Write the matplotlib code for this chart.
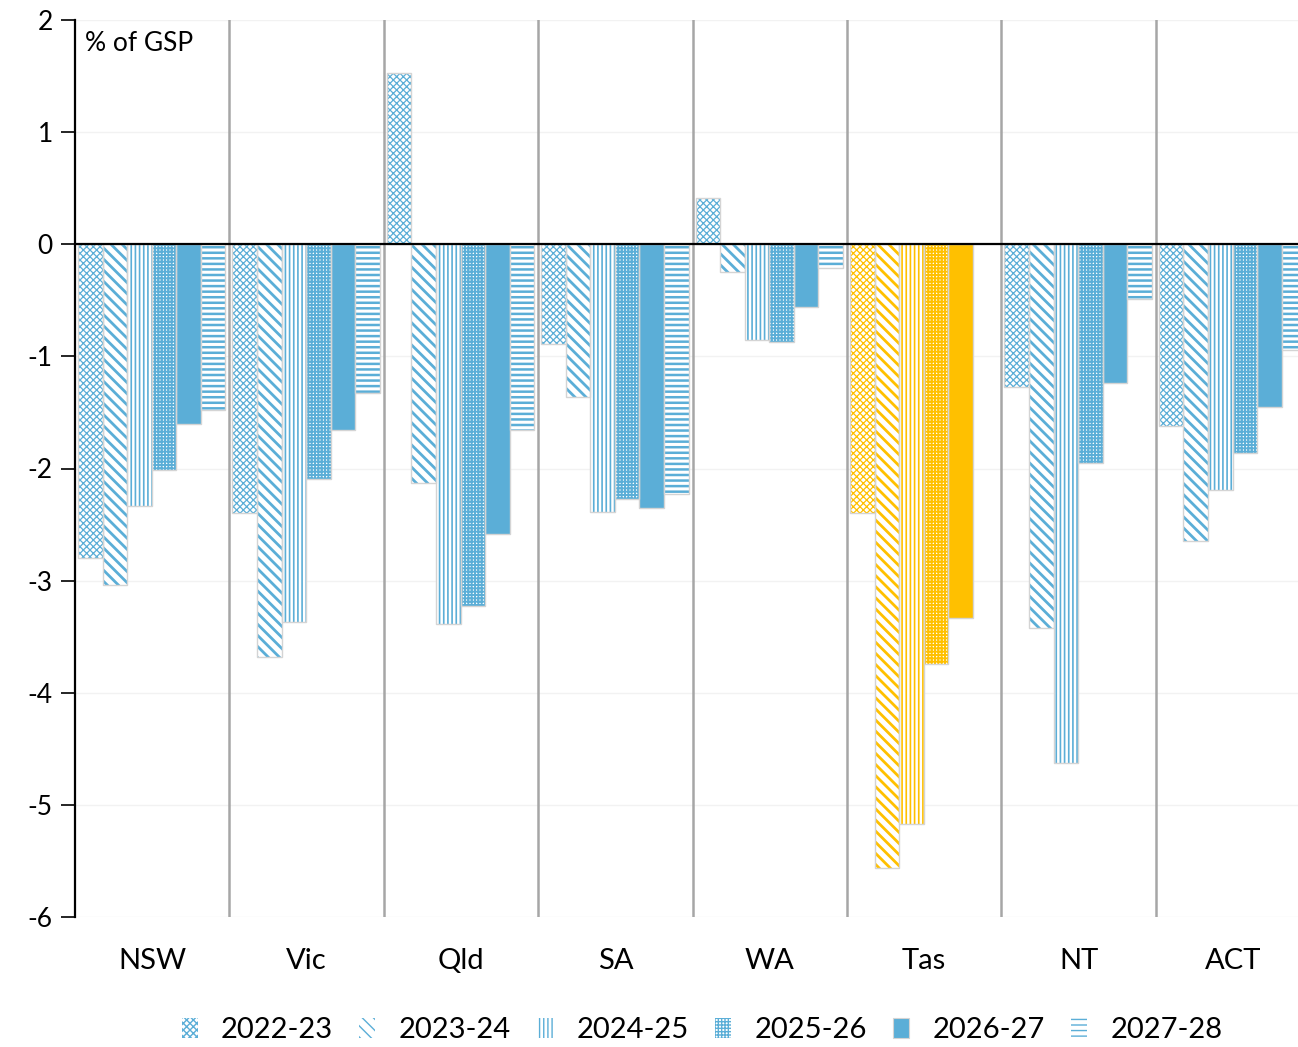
import matplotlib
matplotlib.use("Agg")
import matplotlib.pyplot as plt
import numpy as np
from matplotlib.patches import Patch

states = ["NSW", "Vic", "Qld", "SA", "WA", "Tas", "NT", "ACT"]
years = ["2022-23", "2023-24", "2024-25", "2025-26", "2026-27", "2027-28"]

v2022_23 = [-2.80, -2.40, 1.53, -0.89, 0.41, -2.40, -1.27, -1.62]
v2023_24 = [-3.04, -3.68, -2.13, -1.36, -0.25, -5.56, -3.42, -2.65]
v2024_25 = [-2.33, -3.37, -3.39, -2.39, -0.85, -5.17, -4.63, -2.19]
v2025_26 = [-2.01, -2.09, -3.23, -2.27, -0.87, -3.74, -1.95, -1.86]
v2026_27 = [-1.60, -1.66, -2.58, -2.35, -0.56, -3.33, -1.24, -1.45]
v2027_28 = [-1.48, -1.33, -1.66, -2.23, -0.21, np.nan, -0.49, -0.94]
series = [v2022_23, v2023_24, v2024_25, v2025_26, v2026_27, v2027_28]

yticks = [2, 1, 0, -1, -2, -3, -4, -5, -6]

BLUE = "#5BAED7"
YELLOW = "#FFC000"
OUTLINE = "#D4D4D4"
hatches = ["xxxxx", "\\\\\\", "||||", "+++++", None, "---"]
hlw = [0.9, 2.0, 1.2, 1.4, 1.0, 1.8]

plt.rcParams["font.family"] = ["Lato", "DejaVu Sans"]

fig = plt.figure(figsize=(12.98, 10.47), dpi=100)
W, H = 1298, 1047
ax_left, ax_top, ax_bottom = 75, 20, 917
group_px = 154.4
ax = fig.add_axes([ax_left / W, (H - ax_bottom) / H, 8 * group_px / W, (ax_bottom - ax_top) / H])

x = np.arange(len(states))
bw = 0.159
start = -0.48

for i, vals in enumerate(series):
    pos = x + start + bw * (i + 0.5)
    for j, v in enumerate(vals):
        if np.isnan(v):
            continue
        col = YELLOW if states[j] == "Tas" else BLUE
        if hatches[i] is None:
            ax.bar(pos[j], v, width=bw, color=col, edgecolor=OUTLINE, linewidth=1.0, zorder=3)
        else:
            bars = ax.bar(pos[j], v, width=bw, facecolor="white", edgecolor=col,
                          hatch=hatches[i], linewidth=0, zorder=3)
            for b in bars:
                if hasattr(b, "set_hatch_linewidth"):
                    b.set_hatch_linewidth(hlw[i])
            ax.bar(pos[j], v, width=bw, facecolor="none", edgecolor=OUTLINE, linewidth=1.0, zorder=4)

ax.set_xlim(-0.5, 7.5)
ax.set_ylim(-6, 2)
ax.set_yticks(yticks)
ax.set_yticklabels([str(t) for t in yticks], fontsize=19)
ax.tick_params(axis="y", direction="out", length=10, width=1.2, pad=6)
ax.set_xticks(x)
ax.set_xticklabels(states, fontsize=21)
ax.tick_params(axis="x", length=0, pad=22)

for t in yticks:
    ax.axhline(t, color="#F2F2F2", linewidth=1.0, zorder=0)
ax.axhline(0, color="black", linewidth=1.6, zorder=5)
for b in np.arange(0.5, 7.5, 1.0):
    ax.axvline(b, color="#A6A6A6", linewidth=1.8, zorder=2)

for s in ["top", "right", "bottom"]:
    ax.spines[s].set_visible(False)
ax.spines["left"].set_linewidth(1.6)
ax.spines["left"].set_zorder(6)

ax.text(0.008, 0.988, "% of GSP", transform=ax.transAxes, fontsize=19, va="top", ha="left")

handles = []
for i, y in enumerate(years):
    if hatches[i] is None:
        p = Patch(facecolor=BLUE, edgecolor=OUTLINE, linewidth=0.8, label=y)
    else:
        p = Patch(facecolor="white", edgecolor=BLUE, hatch=hatches[i], linewidth=0, label=y)
        if hasattr(p, "set_hatch_linewidth"):
            p.set_hatch_linewidth(min(hlw[i], 1.2))
    handles.append(p)
leg = fig.legend(handles=handles, loc="center", bbox_to_anchor=(702 / W, 1 - 1030 / H), ncol=6,
                 frameon=False, fontsize=21, handlelength=0.55, handleheight=0.7,
                 handletextpad=0.8, columnspacing=0.9)

fig.savefig("out.png", dpi=100)
